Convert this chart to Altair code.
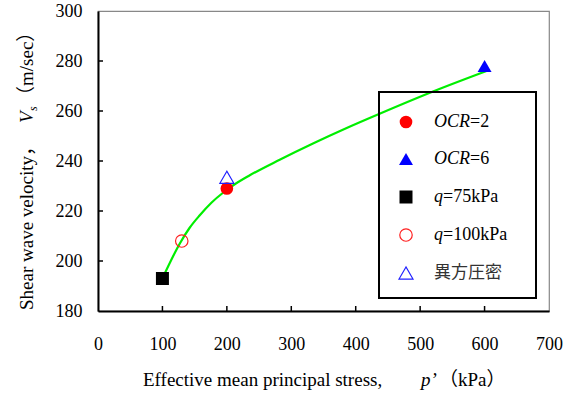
import altair as alt
import pandas as pd

# ---- data ----
x_ticks = [0, 100, 200, 300, 400, 500, 600, 700]
y_ticks = [180, 200, 220, 240, 260, 280, 300]

series = ["OCR=2", "OCR=6", "q=75kPa", "q=100kPa", "異方圧密"]
pts_p = [200, 600, 100, 130, 200]
pts_v = [229, 278, 193, 208, 233.5]

curve_p = [101, 127, 142, 158, 176, 194, 210, 235, 282, 334.5, 386, 438, 520, 603]
curve_v = [193.6, 207, 213.2, 218.3, 223.3, 227.3, 230.3, 234.2, 240.5, 247.1, 253.2, 259, 267.8, 276]

# ---- layout / style constants ----
W, H = 451, 300
SERIF = "Liberation Serif, Noto Sans CJK JP"
CJK = "Noto Sans CJK JP"
FS = 18

pts = pd.DataFrame({"series": series, "p": pts_p, "v": pts_v})
curve = pd.DataFrame({"p": curve_p, "v": curve_v})

xs = alt.Scale(domain=[0, 700], nice=False, zero=False)
ys = alt.Scale(domain=[180, 300], nice=False, zero=False)

xaxis = alt.Axis(values=x_ticks, ticks=False, grid=False, domainColor="black",
                 domainWidth=2, labelFont=SERIF, labelFontSize=FS, labelColor="black",
                 labelPadding=24, title=None, labelFlush=False)
yaxis = alt.Axis(values=y_ticks, ticks=False, grid=False, domainColor="black",
                 domainWidth=2, labelFont=SERIF, labelFontSize=FS, labelColor="black",
                 labelPadding=16, title=None, labelFlush=False)


def X(f):
    return alt.X(f, scale=xs, axis=xaxis)


def Y(f):
    return alt.Y(f, scale=ys, axis=yaxis)


one = pd.DataFrame({"a": [0]})

line = alt.Chart(curve).mark_line(color="#00ee00", strokeWidth=2.2,
                                  interpolate="monotone").encode(x=X("p:Q"), y=Y("v:Q"))

styles = {
    "OCR=2": dict(shape="circle", filled=True, color="#ff0000", size=160),
    "OCR=6": dict(shape="triangle-up", filled=True, color="#0000ff", size=195),
    "q=75kPa": dict(shape="square", filled=True, color="#000000", size=169),
    "q=100kPa": dict(shape="circle", filled=False, color="#ff2020", size=155, strokeWidth=1.2),
    "異方圧密": dict(shape="triangle-up", filled=False, color="#2020ff", size=195, strokeWidth=1.2),
}
order = ["q=100kPa", "q=75kPa", "OCR=2", "異方圧密", "OCR=6"]
point_layers = []
for s in order:
    point_layers.append(
        alt.Chart(pts).transform_filter(alt.datum.series == s)
        .mark_point(opacity=1, **styles[s])
        .encode(x=X("p:Q"), y=Y("v:Q"))
    )

# inward ticks
yt = alt.Chart(pd.DataFrame({"t": y_ticks[1:-1]})).mark_rule(color="black", strokeWidth=1.5).encode(
    y=Y("t:Q"), x=alt.value(0), x2=alt.value(5))
xt = alt.Chart(pd.DataFrame({"t": x_ticks[1:-1]})).mark_rule(color="black", strokeWidth=1.5).encode(
    x=X("t:Q"), y=alt.value(H), y2=alt.value(H - 5))

# legend box
box = alt.Chart(one).mark_rect(fill=None, stroke="black", strokeWidth=2).encode(
    x=alt.value(281), x2=alt.value(438), y=alt.value(81), y2=alt.value(287))

leg_rows = [111, 148, 186, 224, 262]
leg_italic = ["OCR", "OCR", "q", "q", ""]
leg_roman = ["=2", "=6", "=75kPa", "=100kPa", ""]
leg_roman_x = [372, 372, 345, 345, 336]
legend_layers = [box]
for i, s in enumerate(series):
    st = dict(styles[s])
    legend_layers.append(alt.Chart(one).mark_point(opacity=1, **st).encode(
        x=alt.value(308), y=alt.value(leg_rows[i])))
    if leg_italic[i]:
        legend_layers.append(alt.Chart(one).mark_text(
            text=leg_italic[i], font=SERIF, fontSize=FS, fontStyle="italic",
            align="left", baseline="middle", color="black").encode(
            x=alt.value(336), y=alt.value(leg_rows[i])))
        legend_layers.append(alt.Chart(one).mark_text(
            text=leg_roman[i], font=SERIF, fontSize=FS,
            align="left", baseline="middle", color="black").encode(
            x=alt.value(leg_roman_x[i]), y=alt.value(leg_rows[i])))
    else:
        legend_layers.append(alt.Chart(one).mark_text(
            text=s, font=CJK, fontSize=17, align="left", baseline="middle",
            color="#333333").encode(x=alt.value(336), y=alt.value(leg_rows[i])))

# axis titles (mixed italic)
TFS = 19
title_layers = [
    alt.Chart(one).mark_text(text="Effective mean principal stress,", font=SERIF, fontSize=TFS,
                             align="left", baseline="alphabetic", color="black").encode(
        x=alt.value(45), y=alt.value(375)),
    alt.Chart(one).mark_text(text="p’", font=SERIF, fontSize=TFS, fontStyle="italic",
                             align="left", baseline="alphabetic", color="black").encode(
        x=alt.value(323), y=alt.value(375)),
    alt.Chart(one).mark_text(text="（kPa）", font=SERIF, fontSize=TFS,
                             align="left", baseline="alphabetic", color="black").encode(
        x=alt.value(341), y=alt.value(375)),
    alt.Chart(one).mark_text(text="Shear wave velocity，", font=SERIF, fontSize=TFS, angle=270,
                             align="left", baseline="alphabetic", color="black").encode(
        x=alt.value(-65), y=alt.value(299)),
    alt.Chart(one).mark_text(text="V", font=SERIF, fontSize=TFS, angle=270, fontStyle="italic",
                             align="left", baseline="alphabetic", color="black").encode(
        x=alt.value(-65), y=alt.value(112)),
    alt.Chart(one).mark_text(text="s", font=SERIF, fontSize=12, angle=270, fontStyle="italic",
                             align="left", baseline="alphabetic", color="black").encode(
        x=alt.value(-61), y=alt.value(100)),
    alt.Chart(one).mark_text(text="（m/sec）", font=SERIF, fontSize=TFS, angle=270,
                             align="left", baseline="alphabetic", color="black").encode(
        x=alt.value(-65), y=alt.value(94)),
]

chart = alt.layer(line, yt, xt, *point_layers, *legend_layers, *title_layers).properties(
    width=W, height=H, autosize="none",
    padding={"left": 98, "top": 11, "right": 576 - 98 - W, "bottom": 396 - 11 - H},
).configure_view(stroke="#888888", strokeWidth=1.2)

chart.save("out.html", embed_options={"renderer": "svg", "actions": False})
